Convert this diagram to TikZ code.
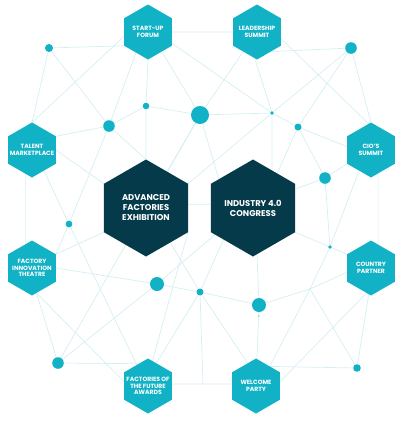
\documentclass[tikz,border=0pt]{standalone}
\usepackage{fontspec}
\setmainfont{Poppins}
\usetikzlibrary{shapes.geometric,backgrounds}
\definecolor{netteal}{HTML}{12B2C6}
\definecolor{netdark}{HTML}{053A4A}
\definecolor{netline}{HTML}{D5EEF3}

\begin{document}
\begin{tikzpicture}[x=1pt,y=-1pt,
  every node/.style={inner sep=0pt,outer sep=0pt},
  hexsmall/.style={regular polygon,regular polygon sides=6,shape border rotate=30,minimum size=55pt,fill=netteal},
  hexbig/.style={regular polygon,regular polygon sides=6,shape border rotate=30,minimum size=97pt,fill=netdark},
  smalltxt/.style={text=white,align=center,font=\bfseries\fontsize{6.1}{6.8}\selectfont},
  bigtxt/.style={text=white,align=center,font=\bfseries\fontsize{8.4}{10}\selectfont},
  dot/.style={circle,fill=netteal},
  net/.style={draw=netline,line width=0.7pt}
]
\useasboundingbox (0,0) rectangle (400,426);

% event hexagons
\node[hexsmall,label={[smalltxt]center:{START-UP\\FORUM}}] (sf) at (148,32) {};
\node[hexsmall,label={[smalltxt]center:{LEADERSHIP\\SUMMIT}}] (ls) at (257,32) {};
\node[hexsmall,label={[smalltxt]center:{TALENT\\MARKETPLACE}}] (tm) at (32,150) {};
\node[hexsmall,label={[smalltxt]center:{CIO’S\\SUMMIT}}] (cio) at (371,150) {};
\node[hexsmall,label={[smalltxt]center:{FACTORY\\INNOVATION\\THEATRE}}] (fit) at (32,268) {};
\node[hexsmall,label={[smalltxt]center:{COUNTRY\\PARTNER}}] (cp) at (371,268) {};
\node[hexsmall,label={[smalltxt]center:{FACTORIES OF\\THE FUTURE\\AWARDS}}] (ffa) at (148,386) {};
\node[hexsmall,label={[smalltxt]center:{WELCOME\\PARTY}}] (wp) at (256,386) {};
\node[hexbig,label={[bigtxt]center:{ADVANCED\\FACTORIES\\EXHIBITION}}] (afe) at (146,208) {};
\node[hexbig,label={[bigtxt]center:{INDUSTRY 4.0\\CONGRESS}}] (ind) at (253,208) {};

% dots of the net
\node[dot,minimum size=8pt] (p1) at (49,48) {};
\node[dot,minimum size=6.6pt] (p2) at (146,106) {};
\node[dot,minimum size=11.6pt] (p3) at (109,126) {};
\node[dot,minimum size=18pt] (p4) at (200,115) {};
\node[dot,minimum size=3.6pt] (p5) at (272,113) {};
\node[dot,minimum size=7pt] (p6) at (298,127) {};
\node[dot,minimum size=11.6pt] (p7) at (351,48) {};
\node[dot,minimum size=11.6pt] (p8) at (325,178) {};
\node[dot,minimum size=6.8pt] (p9) at (69,224) {};
\node[dot,minimum size=14pt] (p10) at (157,284) {};
\node[dot,minimum size=7pt] (p11) at (200,292) {};
\node[dot,minimum size=11.6pt] (p12) at (58,363) {};
\node[dot,minimum size=14pt] (p13) at (259,305) {};
\node[dot,minimum size=3.6pt] (p14) at (330,247) {};
\node[dot,minimum size=7.6pt] (p15) at (357,368) {};
\node[dot,minimum size=1.4pt] (p16) at (259,316) {};
\coordinate (x1) at (310,289);
\coordinate (x2) at (203,384);

\begin{scope}[on background layer]
\draw[net] (p1) -- (sf.210) (p1) -- (tm.90) (p1) -- (p3);
\draw[net] (sf.0) -- (ls.180) (sf.190) -- (tm.90) (sf.-90) -- (p2) (sf.-55) -- (p4) (sf.-120) -- (p3) (sf.-25) -- (p5);
\draw[net] (p2) -- (afe.90) (p2) -- (p3) (p2) -- (p4);
\draw[net] (p3) -- (tm.30) (p3) -- (p9) (p3) -- (afe.90);
\draw[net] (tm.0) -- (afe.150) (tm.255) -- (fit.105) (tm.-60) -- (p9);
\draw[net] (p9) -- (fit.30) (p9) -- (ffa.118);
\draw[net] (fit.0) -- (p10) (fit.-80) -- (p12) (fit.-80) -- (ffa.170) (fit.30) -- (afe.210);
\draw[net] (p10) -- (p11) (p10) -- (p12) (p10) -- (ind.215);
\draw[net] (p12) -- (ffa.112) (p12) -- (p4);
\draw[net] (ffa.80) -- (afe.-30) (ffa.70) -- (p11) (ffa.5) -- (wp.175);
\draw[net] (p11) -- (x2) (p11) -- (p13) (p11) -- (wp.110) (p11) -- (ind.227) (p11) -- (afe.-55);
\draw[net] (p13) -- (wp.88) (p13) -- (ind.-85) (p13) -- (x1);
\draw[net] (x1) -- (cp.190) (x1) -- (wp.55) (x1) -- (p14) (x1) -- (p15);
\draw[net] (cp.-100) -- (wp.10) (cp.-95) -- (p15) (wp.55) -- (p15);
\draw[net] (ind.-30) -- (p14) (p14) -- (cp.150) (p14) -- (p8) (p14) -- (cio.240);
\draw[net] (cio.-73) -- (cp.73);
\draw[net] (p8) -- (ind.24) (p8) -- (cio.210) (p8) -- (p6);
\draw[net] (p6) -- (cio.172) (p6) -- (p5) (p6) -- (ind.55) (p6) -- (p7);
\draw[net] (ls.-15) -- (cio.95) (ls.-55) -- (p7) (ls.-95) -- (p5) (ls.-125) -- (p4);
\draw[net] (p4) -- (p5) (p5) -- (p7) (p5) -- (ind.63) (p5) -- (afe.30) (p7) -- (cio.90);
\draw[net] (p4) -- (ind.140) (p4) -- (afe.60) (afe.5) -- (ind.175);
\end{scope}
\end{tikzpicture}
\end{document}
